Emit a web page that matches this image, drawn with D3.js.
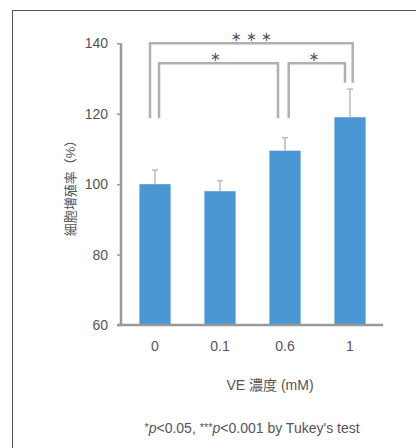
<!DOCTYPE html>
<html>
<head>
<meta charset="utf-8">
<script src="https://cdn.jsdelivr.net/npm/d3@7"></script>
<style>
  body { margin: 0; background: #fff; }
  text { font-family: "Liberation Sans", "Noto Sans CJK JP", sans-serif; fill: #555; }
</style>
</head>
<body>
<div id="chart"></div>
<script>
var categories = ["0", "0.1", "0.6", "1"];
var means = [100, 98, 109.5, 119];
var errors = [4, 3, 3.7, 8];
var yTicks = [60, 80, 100, 120, 140];
var brackets = [
    { from: "0", to: "1", top: 140, leftEnd: 118.8, rightEnd: 128.8, label: "\u2217 \u2217 \u2217" },
    { from: "0", to: "0.6", top: 134.3, leftEnd: 118.8, rightEnd: 118.8, label: "\u2217" },
    { from: "0.6", to: "1", top: 134.3, leftEnd: 118.8, rightEnd: 128.8, label: "\u2217" }
];

var full_width = 416, full_height = 448;

var svg = d3.select("#chart").append("svg")
    .attr("width", full_width)
    .attr("height", full_height);

// frame (only left and top edges visible)
svg.append("rect")
    .attr("x", 12.5).attr("y", 10.5)
    .attr("width", 430).attr("height", 460)
    .attr("fill", "none")
    .attr("stroke", "#555")
    .attr("stroke-width", 1);

var x = d3.scaleBand()
    .domain(categories)
    .range([122.5, 382.5])
    .paddingInner(0.52)
    .paddingOuter(0.26);

var y = d3.scaleLinear()
    .domain([60, 140])
    .range([325, 43.3]);

// bars
svg.selectAll(".bar")
    .data(means)
    .enter().append("rect")
    .attr("class", "bar")
    .attr("x", function(d, i) { return x(categories[i]); })
    .attr("y", function(d) { return y(d); })
    .attr("width", x.bandwidth())
    .attr("height", function(d) { return y(60) - y(d); })
    .attr("fill", "#4b97d3");

// error bars
var eb = svg.selectAll(".err")
    .data(means)
    .enter().append("g")
    .attr("class", "err");
eb.append("line")
    .attr("x1", function(d, i) { return x(categories[i]) + x.bandwidth() / 2; })
    .attr("x2", function(d, i) { return x(categories[i]) + x.bandwidth() / 2; })
    .attr("y1", function(d) { return y(d); })
    .attr("y2", function(d, i) { return y(d + errors[i]); })
    .attr("stroke", "#bbb")
    .attr("stroke-width", 1.5);
eb.append("line")
    .attr("x1", function(d, i) { return x(categories[i]) + x.bandwidth() / 2 - 3; })
    .attr("x2", function(d, i) { return x(categories[i]) + x.bandwidth() / 2 + 3; })
    .attr("y1", function(d, i) { return y(d + errors[i]); })
    .attr("y2", function(d, i) { return y(d + errors[i]); })
    .attr("stroke", "#bbb")
    .attr("stroke-width", 1.5);

// Y axis
var yAxis = svg.append("g")
    .attr("transform", "translate(121,0)")
    .call(d3.axisLeft(y).tickValues(yTicks).tickSize(4).tickPadding(9));
yAxis.select(".domain").attr("stroke", "#999").attr("stroke-width", 2.5).attr("d", "M0," + y(140) + "V" + y(60));
yAxis.selectAll(".tick line").attr("stroke", "#999").attr("stroke-width", 1.5);
yAxis.selectAll(".tick text").style("font-size", "14px").style("font-family", "'Liberation Sans', sans-serif").attr("fill", "#555");

// X axis
svg.append("line")
    .attr("x1", 117).attr("x2", 383)
    .attr("y1", y(60)).attr("y2", y(60))
    .attr("stroke", "#999")
    .attr("stroke-width", 2.5);
var xAxis = svg.append("g")
    .attr("transform", "translate(0," + y(60) + ")")
    .call(d3.axisBottom(x).tickSize(0).tickPadding(16));
xAxis.select(".domain").remove();
xAxis.selectAll(".tick text").style("font-size", "14px").style("font-family", "'Liberation Sans', sans-serif").attr("fill", "#555");

// significance brackets
var legOffsets = [[-5, 2.7], [4, -7], [3.7, -5]];
brackets.forEach(function(b, i) {
    var x1 = x(b.from) + x.bandwidth() / 2 + legOffsets[i][0];
    var x2 = x(b.to) + x.bandwidth() / 2 + legOffsets[i][1];
    svg.append("path")
        .attr("d", "M" + x1 + "," + y(b.leftEnd) + "V" + y(b.top) + "H" + x2 + "V" + y(b.rightEnd))
        .attr("fill", "none")
        .attr("stroke", "#b0b0b0")
        .attr("stroke-width", 2.5);
    svg.append("text")
        .attr("x", (x1 + x2) / 2 + (i === 0 ? 0 : -3))
        .attr("y", y(b.top) - 2)
        .attr("text-anchor", "middle")
        .style("font-size", "13px")
        .style("font-family", "'DejaVu Sans', sans-serif")
        .attr("fill", "#666")
        .text(b.label);
});

// Y axis label
svg.append("text")
    .attr("transform", "translate(75,185) rotate(-90)")
    .attr("text-anchor", "middle")
    .style("font-size", "13px")
    .attr("fill", "#666")
    .text("細胞増殖率（%）");

// X axis label
svg.append("text")
    .attr("x", 270).attr("y", 390)
    .attr("text-anchor", "middle")
    .style("font-size", "14px")
    .text("VE 濃度 (mM)");

// footnote
var fn = svg.append("text")
    .attr("x", 252).attr("y", 433)
    .attr("text-anchor", "middle")
    .style("font-size", "14px");
fn.append("tspan").attr("dy", -2).style("font-size", "11px").text("*");
fn.append("tspan").attr("dy", 2).style("font-style", "italic").text("p");
fn.append("tspan").text("<0.05, ");
fn.append("tspan").attr("dy", -2).style("font-size", "11px").text("***");
fn.append("tspan").attr("dy", 2).style("font-style", "italic").text("p");
fn.append("tspan").text("<0.001 by Tukey's test");
</script>
</body>
</html>
